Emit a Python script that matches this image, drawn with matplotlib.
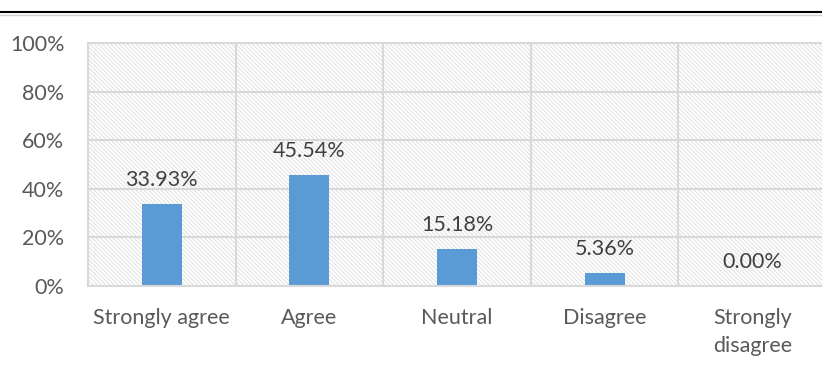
import matplotlib.pyplot as plt
import numpy as np
from matplotlib.lines import Line2D
from matplotlib.patches import Rectangle

categories = ["Strongly agree", "Agree", "Neutral", "Disagree", "Strongly\ndisagree"]
percentages = [33.93, 45.54, 15.18, 5.36, 0.00]
y_ticks = [0, 20, 40, 60, 80, 100]

plt.rcParams['font.family'] = ['Lato', 'DejaVu Sans']
plt.rcParams['hatch.linewidth'] = 0.6

fig = plt.figure(figsize=(8.22, 3.73), dpi=100)
ax = fig.add_axes([0.107, 0.233, 0.898, 0.652])

x = np.arange(len(categories))
ax.set_xlim(-0.5, len(categories) - 0.5)
ax.set_ylim(0, 100)

# diagonal hatched plot area
ax.add_patch(Rectangle((0, 0), 1, 1, transform=ax.transAxes, facecolor='white',
                       edgecolor='#dcdcdc', hatch='\\' * 8, linewidth=0, zorder=0))

# grid lines
for yv in y_ticks:
    ax.axhline(yv, color='#d9d9d9', linewidth=1.5, zorder=1)
for xv in np.arange(0.5, len(categories) - 0.5, 1):
    ax.axvline(xv, color='#d9d9d9', linewidth=1.5, zorder=1)

bars = ax.bar(x, percentages, width=0.27, color='#5b9bd5', zorder=2)

for xi, v in zip(x, percentages):
    ax.annotate(f"{v:.2f}%", (xi, v), xytext=(0, 10), textcoords='offset points',
                ha='center', va='bottom', fontsize=15.5, color='#404040')

ax.set_yticks(y_ticks)
ax.set_yticklabels([f"{t}%" for t in y_ticks])
ax.set_xticks(x)
ax.set_xticklabels(categories, linespacing=1.5)
ax.tick_params(axis='both', length=0, labelsize=15.5, labelcolor='#595959')
ax.tick_params(axis='x', pad=16)
ax.tick_params(axis='y', pad=17)

for s in ax.spines.values():
    s.set_color('#d9d9d9')
    s.set_linewidth(1.5)

# rule across the top of the figure
fig.add_artist(Line2D([0, 1], [0.967, 0.967], transform=fig.transFigure, color='black', linewidth=1.5))
fig.add_artist(Line2D([0, 1], [0.960, 0.960], transform=fig.transFigure, color='#d0d0d0', linewidth=1))

fig.savefig('out.png', dpi=100)
